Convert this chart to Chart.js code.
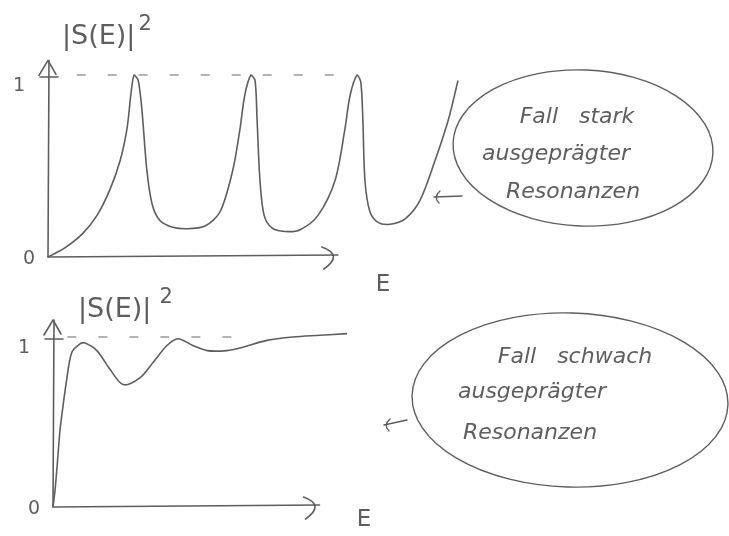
<!DOCTYPE html>
<html>
<head>
<meta charset="utf-8">
<script src="https://cdn.jsdelivr.net/npm/chart.js@4/dist/chart.umd.min.js"></script>
<style>
  html, body { margin: 0; padding: 0; background: #fff; }
  #wrap { position: relative; width: 729px; height: 536px; overflow: hidden; }
  canvas { position: absolute; left: 0; }
  #strong { top: 0; }
  #weak { top: 268px; }
</style>
</head>
<body>
<div id="wrap">
  <canvas id="strong" width="729" height="300"></canvas>
  <canvas id="weak" width="729" height="268"></canvas>
</div>
<script>
// |S(E)|^2 for strongly pronounced resonances (sharp peaks reaching 1)
const strongE = [0, 0.41, 0.85, 1.20, 1.51, 1.76, 1.93, 2.02, 2.10, 2.20, 2.29, 2.41, 2.54, 2.73, 3.02, 3.39, 3.83, 4.20, 4.51, 4.68, 4.80, 4.95, 5.05, 5.10, 5.17, 5.27, 5.46, 5.78, 6.15, 6.59, 7.00, 7.24, 7.37, 7.54, 7.63, 7.68, 7.73, 7.85, 8.05, 8.34, 8.71, 9.07, 9.44, 9.76, 10.0];
const strongS = [0, 0.05, 0.13, 0.23, 0.37, 0.53, 0.71, 0.89, 1.00, 0.97, 0.81, 0.48, 0.29, 0.20, 0.165, 0.155, 0.17, 0.25, 0.48, 0.70, 0.89, 1.00, 0.97, 0.75, 0.42, 0.23, 0.16, 0.14, 0.15, 0.23, 0.42, 0.70, 0.89, 1.00, 0.96, 0.75, 0.42, 0.25, 0.19, 0.18, 0.21, 0.31, 0.53, 0.75, 0.97];

// |S(E)|^2 for weakly pronounced resonances (damped ripples towards 1)
const weakE = [0, 0.05, 0.10, 0.17, 0.22, 0.34, 0.46, 0.66, 0.78, 1.07, 1.39, 1.71, 2.12, 2.44, 2.78, 3.05, 3.41, 3.76, 4.24, 4.56, 5.22, 5.85, 6.51, 7.17];
const weakS = [0, 0.10, 0.24, 0.45, 0.55, 0.76, 0.91, 0.96, 0.965, 0.92, 0.81, 0.72, 0.76, 0.85, 0.95, 0.99, 0.95, 0.92, 0.92, 0.935, 0.98, 1.00, 1.01, 1.02];

// dashed guide at |S|^2 = 1
const strongGuideE = [0.7, 7.1];
const weakGuideE = [0.35, 4.8];
const guideLevel = [1, 1];

const yTickLabels = ['0', '1'];
const yTitle = '|S(E)|';
const yTitleExp = '2';
const xTitle = 'E';
const strongNote = ['Fall   stark', 'ausgeprägter', 'Resonanzen'];
const weakNote = ['Fall   schwach', 'ausgeprägter', 'Resonanzen'];

const INK = '#5e5e5e';
const FONT = '"DejaVu Sans", sans-serif';

function pairs(xs, ys) { return xs.map((v, i) => ({ x: v, y: ys[i] })); }

function sketchPlugin(o) {
  return {
    id: 'sketch',
    afterDraw(chart) {
      const { ctx, scales: { x, y } } = chart;
      const px = v => x.getPixelForValue(v);
      const py = v => y.getPixelForValue(v);
      ctx.save();
      ctx.strokeStyle = INK;
      ctx.fillStyle = INK;
      ctx.lineWidth = 1.6;
      ctx.lineCap = 'round';
      ctx.lineJoin = 'round';

      const x0 = px(0), y0 = py(0), yTop = py(o.yEnd), xEnd = px(o.xEnd);
      // vertical axis with open arrow head
      ctx.beginPath(); ctx.moveTo(x0, y0); ctx.lineTo(x0 + 1, yTop); ctx.stroke();
      ctx.beginPath(); ctx.moveTo(x0 - 9, yTop + 15); ctx.lineTo(x0, yTop); ctx.lineTo(x0 + 8, yTop + 14); ctx.stroke();
      // horizontal axis with curved arrow head
      ctx.beginPath(); ctx.moveTo(x0, y0); ctx.lineTo(xEnd, y0 - 2); ctx.stroke();
      ctx.beginPath(); ctx.moveTo(xEnd - 16, y0 - 10); ctx.quadraticCurveTo(xEnd + 6, y0 - 2, xEnd - 14, y0 + 12); ctx.stroke();
      // tick mark at 1
      ctx.beginPath(); ctx.moveTo(x0 - 8, py(1) + 2); ctx.lineTo(x0 + 10, py(1) + 2); ctx.stroke();

      // tick labels
      ctx.font = '19px ' + FONT;
      ctx.textAlign = 'center';
      ctx.textBaseline = 'middle';
      ctx.fillText(yTickLabels[1], x0 - 29, py(1) + 11);
      ctx.fillText(yTickLabels[0], x0 - 19, y0 + 2);

      // axis titles
      ctx.textAlign = 'left';
      ctx.textBaseline = 'alphabetic';
      ctx.font = '27px ' + FONT;
      ctx.fillText(yTitle, o.titleX, o.titleY);
      const w = ctx.measureText(yTitle).width;
      ctx.font = '21px ' + FONT;
      ctx.fillText(yTitleExp, o.titleX + w + o.expGap, o.titleY - 14);
      ctx.textAlign = 'center';
      ctx.textBaseline = 'middle';
      ctx.font = '23px ' + FONT;
      ctx.fillText(xTitle, o.eX, o.eY);

      // callout bubble
      const b = o.bubble;
      ctx.lineWidth = 1.4;
      ctx.beginPath();
      ctx.ellipse(b.cx, b.cy, b.rx, b.ry, b.rot, 0, Math.PI * 2);
      ctx.stroke();
      ctx.font = 'italic 22px ' + FONT;
      b.lines.forEach((t, i) => ctx.fillText(t, b.tx[i], b.ty[i]));
      // pointer arrow
      const a = o.arrow;
      ctx.beginPath(); ctx.moveTo(a.x1, a.y1); ctx.lineTo(a.x2, a.y2); ctx.stroke();
      ctx.beginPath(); ctx.moveTo(a.x2 + 6, a.y2 - 6); ctx.quadraticCurveTo(a.x2 - 1, a.y2, a.x2 + 5, a.y2 + 6); ctx.stroke();
      ctx.restore();
    }
  };
}

function makeChart(id, es, ss, guideE, pad, xMax, plug) {
  return new Chart(document.getElementById(id), {
    type: 'line',
    data: {
      datasets: [
        {
          data: pairs(es, ss),
          borderColor: INK,
          borderWidth: 1.6,
          pointRadius: 0,
          tension: 0.3,
          clip: false
        },
        {
          data: pairs(guideE, guideLevel),
          borderColor: '#9a9a9a',
          borderWidth: 1.3,
          borderDash: [9, 22],
          pointRadius: 0,
          clip: false
        }
      ]
    },
    options: {
      responsive: false,
      animation: false,
      events: [],
      layout: { padding: pad },
      plugins: { legend: { display: false }, tooltip: { enabled: false } },
      scales: {
        x: { type: 'linear', min: 0, max: xMax, display: false },
        y: { type: 'linear', min: 0, max: 1, display: false }
      }
    },
    plugins: [plug]
  });
}

makeChart('strong', strongE, strongS, strongGuideE,
  { left: 48, right: 271, top: 75, bottom: 43 }, 10,
  sketchPlugin({
    yEnd: 1.08, xEnd: 7.07,
    titleX: 62, titleY: 44, expGap: 3, eX: 383, eY: 285,
    bubble: { cx: 583, cy: 148, rx: 130, ry: 78, rot: 0.04,
      lines: strongNote, tx: [577, 556, 573], ty: [117, 154, 192] },
    arrow: { x1: 462, y1: 196, x2: 434, y2: 197 }
  }));

makeChart('weak', weakE, weakS, weakGuideE,
  { left: 53, right: 266, top: 69, bottom: 29 }, 10,
  sketchPlugin({
    yEnd: 1.1, xEnd: 6.5,
    titleX: 78, titleY: 49, expGap: 8, eX: 364, eY: 252,
    bubble: { cx: 570, cy: 132, rx: 158, ry: 87, rot: 0.03,
      lines: weakNote, tx: [575, 532, 530], ty: [89, 124, 165] },
    arrow: { x1: 407, y1: 152, x2: 384, y2: 157 }
  }));
</script>
</body>
</html>
